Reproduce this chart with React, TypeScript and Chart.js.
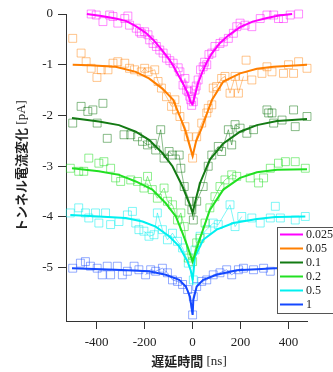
import React, { useEffect, useRef } from "react";
import { Chart, registerables } from "chart.js";
Chart.register(...registerables);

// ---- Data ----
const seriesLabels = ["0.025", "0.05", "0.1", "0.2", "0.5", "1"];
const xTicks = [-400, -200, 0, 200, 400];
const yTicks = [0, -1, -2, -3, -4, -5];

// measured points (x in ns, y in pA)
const magentaX = [-423,-402,-374,-346,-332,-312,-283,-270,-263,-235,-221,-214,-200,-186,-179,-165,-151,-137,-123,-109,-95,-81,-60,-53,-40,-32,-25,-18,-12,-8,-4,3,10,15,23,33,44,50,59,68,80,93,114,128,149,170,184,198,219,247,282,310,338,358,379,407,442];
const magentaY = [0.00,-0.02,-0.15,-0.02,-0.05,-0.18,-0.09,-0.04,-0.22,-0.28,-0.35,-0.38,-0.35,-0.41,-0.51,-0.58,-0.64,-0.71,-0.77,-0.87,-0.92,-0.97,-1.06,-1.14,-1.40,-1.27,-1.50,-1.53,-1.62,-1.69,-1.80,-1.73,-1.50,-1.42,-1.30,-1.10,-1.04,-0.95,-1.00,-0.80,-0.77,-0.64,-0.58,-0.55,-0.48,-0.38,-0.25,-0.18,-0.22,-0.25,-0.09,-0.02,-0.02,-0.09,-0.09,-0.02,0.00];

const orangeX = [-500,-465,-444,-423,-399,-381,-353,-332,-312,-283,-263,-242,-214,-200,-186,-158,-144,-130,-109,-88,-74,-67,-53,-32,-18,0,17,38,59,65,80,86,100,121,135,156,177,191,212,223,247,289,310,331,379,400,421,442,477];
const orangeY = [-0.48,-0.77,-0.94,-1.07,-1.25,-1.10,-1.10,-0.97,-0.94,-0.97,-1.07,-1.10,-1.14,-1.07,-1.14,-1.10,-1.33,-1.46,-1.63,-1.82,-1.69,-1.89,-2.02,-2.22,-2.42,-2.84,-2.42,-2.15,-1.95,-1.86,-1.79,-1.46,-1.43,-1.27,-1.23,-1.56,-1.23,-1.56,-1.23,-0.91,-1.30,-1.17,-1.04,-1.14,-1.17,-1.00,-1.17,-0.94,-1.07];

const dkGreenX = [-500,-465,-437,-416,-398,-374,-356,-286,-258,-230,-209,-188,-168,-154,-133,-119,-98,-84,-56,-49,-35,-14,-3,3,17,44,65,80,107,121,149,163,177,198,226,254,310,317,331,338,373,421,428,477];
const dkGreenY = [-2.15,-1.82,-1.92,-1.89,-2.15,-1.76,-2.45,-2.38,-2.38,-2.42,-2.51,-2.58,-2.55,-2.68,-2.28,-2.84,-2.71,-2.78,-2.78,-3.04,-3.40,-3.69,-3.86,-4.06,-3.69,-3.40,-3.00,-2.78,-2.61,-2.71,-2.28,-2.58,-2.18,-2.25,-2.35,-2.28,-1.89,-1.95,-1.95,-2.15,-2.09,-1.89,-2.22,-2.02];

const greenX = [-510,-475,-454,-433,-391,-370,-342,-321,-300,-258,-230,-203,-188,-168,-147,-119,-105,-84,-63,-49,-35,-18,0,17,31,52,72,93,114,135,163,184,240,275,296,324,358,387,428,470];
const greenY = [-3.04,-3.10,-3.10,-2.84,-2.94,-2.91,-3.04,-3.23,-3.30,-3.27,-3.30,-3.43,-3.20,-3.46,-3.63,-3.43,-3.69,-3.76,-4.06,-3.92,-4.19,-4.81,-4.88,-4.51,-4.42,-4.12,-3.82,-3.60,-3.40,-3.27,-3.17,-3.20,-3.23,-3.33,-3.23,-3.04,-2.94,-2.91,-2.91,-3.04];

const cyanX = [-510,-475,-447,-433,-405,-391,-363,-342,-307,-272,-251,-237,-224,-203,-182,-161,-147,-126,-105,-84,-63,-42,-18,3,10,31,59,86,107,156,177,205,247,282,324,345,366,428,470];
const cyanY = [-3.92,-3.82,-3.92,-4.02,-3.92,-4.12,-3.92,-4.15,-4.09,-3.96,-3.89,-4.12,-4.25,-4.28,-4.38,-4.35,-3.92,-4.25,-4.45,-4.32,-4.48,-4.61,-4.91,-5.24,-4.65,-4.38,-4.25,-4.12,-4.15,-3.76,-4.19,-3.99,-4.02,-4.12,-4.02,-3.79,-4.02,-4.06,-3.99];

const blueX = [-500,-468,-447,-426,-398,-377,-356,-342,-314,-293,-272,-244,-224,-196,-175,-154,-126,-105,-84,-63,-42,-21,0,3,17,38,59,86,114,142,163,191,212,254,296,324];
const blueY = [-5.01,-4.91,-4.88,-4.97,-5.01,-5.14,-4.97,-5.14,-4.97,-5.14,-5.07,-4.97,-5.04,-5.14,-5.04,-5.07,-5.01,-5.10,-5.24,-5.27,-5.33,-5.43,-5.93,-5.57,-5.37,-5.27,-5.24,-5.14,-5.10,-5.04,-5.14,-5.04,-5.01,-5.04,-5.01,-5.07];

// fitted curves
const magentaFitX = [-441,-380,-321,-276,-237,-193,-160,-126,-100,-81,-60,-39,-20,-8,0,10,23,40,59,80,114,150,198,250,310,360,415];
const magentaFitY = [0.0,-0.04,-0.09,-0.14,-0.24,-0.38,-0.53,-0.72,-0.88,-1.02,-1.2,-1.38,-1.57,-1.74,-1.78,-1.6,-1.36,-1.15,-0.95,-0.78,-0.57,-0.42,-0.26,-0.15,-0.08,-0.03,0.0];
const orangeFitX = [-500,-430,-321,-237,-182,-126,-81,-53,-32,-15,0,15,38,80,128,198,268,337,477];
const orangeFitY = [-1.0,-1.01,-1.04,-1.14,-1.27,-1.47,-1.69,-2.02,-2.28,-2.55,-2.8,-2.5,-2.25,-1.7,-1.33,-1.17,-1.08,-1.04,-1.0];
const dkGreenFitX = [-503,-391,-307,-237,-182,-126,-84,-42,-14,0,15,31,72,128,198,268,352,477];
const dkGreenFitY = [-2.05,-2.12,-2.19,-2.32,-2.48,-2.74,-3.0,-3.4,-3.73,-3.92,-3.62,-3.33,-2.87,-2.55,-2.32,-2.19,-2.11,-2.07];
const greenFitX = [-503,-391,-307,-237,-168,-112,-70,-42,-20,0,15,31,72,128,198,268,352,477];
const greenFitY = [-3.04,-3.10,-3.17,-3.30,-3.46,-3.73,-3.99,-4.32,-4.6,-4.88,-4.65,-4.42,-3.86,-3.46,-3.23,-3.12,-3.07,-3.06];
const cyanFitX = [-510,-391,-279,-209,-154,-98,-56,-21,-8,0,10,44,100,170,268,345,470];
const cyanFitY = [-3.96,-3.99,-4.02,-4.09,-4.19,-4.38,-4.58,-4.88,-5.05,-5.24,-4.78,-4.45,-4.25,-4.12,-4.04,-4.0,-3.99];
const blueFitX = [-503,-321,-182,-112,-56,-28,-11,0,3,17,44,100,184,268,345,477];
const blueFitY = [-5.01,-5.04,-5.07,-5.14,-5.24,-5.37,-5.57,-5.93,-5.63,-5.37,-5.24,-5.14,-5.05,-5.03,-5.01,-5.0];

const pointsX = [magentaX, orangeX, dkGreenX, greenX, cyanX, blueX];
const pointsY = [magentaY, orangeY, dkGreenY, greenY, cyanY, blueY];
const fitsX = [magentaFitX, orangeFitX, dkGreenFitX, greenFitX, cyanFitX, blueFitX];
const fitsY = [magentaFitY, orangeFitY, dkGreenFitY, greenFitY, cyanFitY, blueFitY];

const lineColors = ["#ff00ff", "#ff7f00", "#137a13", "#22e022", "#00f0f0", "#1448ff"];
const markerColors = [
  "rgba(255,0,255,0.45)",
  "rgba(255,127,0,0.45)",
  "rgba(19,122,19,0.5)",
  "rgba(34,224,34,0.5)",
  "rgba(0,240,240,0.5)",
  "rgba(20,72,255,0.45)",
];

const SERIF = "'Liberation Serif', 'Times New Roman', 'Noto Sans CJK JP', serif";
const CJK = "'Noto Sans CJK JP', sans-serif";
const xTitleJa = "遅延時間";
const xTitleUnit = " [ns]";
const yTitleJa = "トンネル電流変化";
const yTitleUnit = " [pA]";

const toXY = (xs: number[], ys: number[]) => xs.map((x, i) => ({ x, y: ys[i] }));

function drawTitle(ctx: CanvasRenderingContext2D, ja: string, unit: string, cx: number, cy: number) {
  ctx.font = `bold 13px ${CJK}`;
  const w1 = ctx.measureText(ja).width;
  ctx.font = `13px ${SERIF}`;
  const w2 = ctx.measureText(unit).width;
  const start = cx - (w1 + w2) / 2;
  ctx.textAlign = "left";
  ctx.textBaseline = "middle";
  ctx.font = `bold 13px ${CJK}`;
  ctx.fillText(ja, start, cy);
  ctx.font = `13px ${SERIF}`;
  ctx.fillText(unit, start + w1, cy + 0.5);
}

const overlayPlugin = {
  id: "overlay",
  afterDraw(chart: any) {
    const ctx = chart.ctx as CanvasRenderingContext2D;
    ctx.save();
    ctx.fillStyle = "#222";
    drawTitle(ctx, xTitleJa, xTitleUnit, 189, 361);
    ctx.translate(21, 166);
    ctx.rotate(-Math.PI / 2);
    drawTitle(ctx, yTitleJa, yTitleUnit, 0, 0);
    ctx.restore();

    // legend
    ctx.save();
    const lx = 277.5, ly = 227.5, lw = 70, lh = 86;
    ctx.fillStyle = "#fff";
    ctx.fillRect(lx, ly, lw, lh);
    ctx.strokeStyle = "#555";
    ctx.lineWidth = 1;
    ctx.strokeRect(lx, ly, lw, lh);
    ctx.font = `12px ${SERIF}`;
    ctx.textAlign = "left";
    ctx.textBaseline = "middle";
    seriesLabels.forEach((lab, i) => {
      const yy = 234.5 + i * 14;
      ctx.strokeStyle = lineColors[i];
      ctx.lineWidth = 2;
      ctx.beginPath();
      ctx.moveTo(280, yy);
      ctx.lineTo(303, yy);
      ctx.stroke();
      ctx.fillStyle = "#222";
      ctx.fillText(lab, 306, yy + 0.5);
    });
    ctx.restore();
  },
};

export default function App() {
  const ref = useRef<HTMLCanvasElement>(null);
  useEffect(() => {
    const datasets: any[] = [];
    seriesLabels.forEach((lab, i) => {
      datasets.push({
        label: lab + " fit",
        data: toXY(fitsX[i], fitsY[i]),
        showLine: true,
        borderColor: lineColors[i],
        borderWidth: 2,
        pointRadius: 0,
        tension: 0,
        order: 0,
        clip: false,
      });
    });
    seriesLabels.forEach((lab, i) => {
      const pts = toXY(pointsX[i], pointsY[i]).sort((a, b) => a.x - b.x);
      datasets.push({
        label: lab + " trace",
        data: pts.filter((p) => Math.abs(p.x) < 220),
        showLine: true,
        borderColor: markerColors[i],
        borderWidth: 1,
        pointRadius: 0,
        tension: 0,
        order: 1,
        clip: false,
      });
      datasets.push({
        label: lab,
        data: pts,
        showLine: false,
        pointStyle: "rect",
        pointRadius: 5.6,
        pointBorderWidth: 1,
        pointBorderColor: markerColors[i],
        pointBackgroundColor: "rgba(0,0,0,0)",
        order: 2,
        clip: false,
      });
    });

    const tickFont = { family: SERIF, size: 13 };
    const chart = new Chart(ref.current as HTMLCanvasElement, {
      type: "scatter",
      data: { datasets },
      plugins: [overlayPlugin],
      options: {
        responsive: false,
        animation: false,
        devicePixelRatio: 1,
        layout: { padding: { top: 14, right: 26, left: 0, bottom: 0 } },
        plugins: { legend: { display: false }, tooltip: { enabled: false } },
        scales: {
          x: {
            type: "linear",
            min: -528,
            max: 477,
            afterBuildTicks: (s: any) => {
              s.ticks = xTicks.map((v) => ({ value: v }));
            },
            afterFit: (s: any) => {
              s.height = 51;
            },
            grid: { drawOnChartArea: false, drawTicks: true, tickLength: 8, color: "#333" },
            border: { display: true, color: "#333", width: 1 },
            ticks: { font: tickFont, color: "#222", padding: 6, maxRotation: 0 },
          },
          y: {
            type: "linear",
            min: -6.05,
            max: 0,
            afterBuildTicks: (s: any) => {
              s.ticks = yTicks.map((v) => ({ value: v }));
            },
            afterFit: (s: any) => {
              s.width = 66;
            },
            grid: { drawOnChartArea: false, drawTicks: true, tickLength: 8, color: "#333" },
            border: { display: true, color: "#333", width: 1 },
            ticks: { font: tickFont, color: "#222", padding: 5 },
          },
        },
      } as any,
    });
    return () => chart.destroy();
  }, []);
  return (
    <div style={{ position: "fixed", left: 0, top: 0, width: 333, height: 372, background: "#fff" }}>
      <canvas ref={ref} width={333} height={372} style={{ display: "block" }} />
    </div>
  );
}
